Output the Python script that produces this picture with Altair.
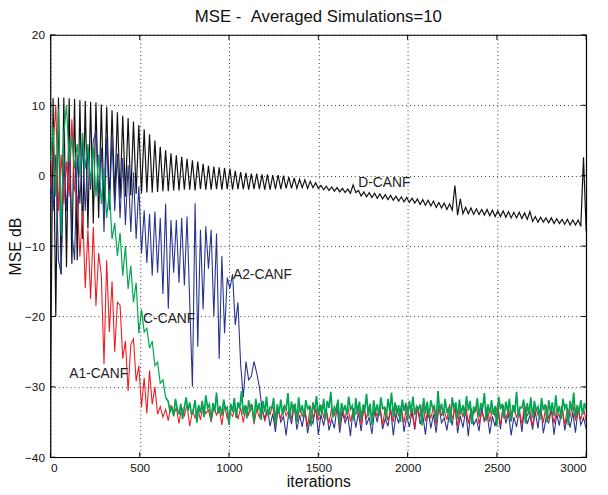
import altair as alt
import numpy as np
import pandas as pd

FONT = "Liberation Sans"

# ---------------- data ----------------
# D-CANF (black): ripple peaks (iterations 15, 45, ...) and troughs (0, 30, ...)
D_PEAKS = [
    11.0, 11.1, 11.1, 11.0, 10.9, 10.7, 10.6, 10.5, 10.4, 10.1,
    9.8, 9.3, 9.0, 8.5, 8.2, 7.7, 7.2, 6.6, 5.9, 5.0,
    4.1, 3.6, 3.2, 2.9, 2.7, 2.4, 2.2, 2.0, 1.7, 1.4,
    1.3, 1.2, 1.1, 1.0, 0.7, 0.5, 0.4, 0.3, 0.3, 0.2,
    0.2, 0.1, 0.1, 0.0, -0.2, -0.3, -0.5, -0.6, -0.8, -1.0,
    -1.4, -1.5, -1.6, -1.7, -1.8, -1.9, -1.3, -2.1, -2.3, -2.4,
    -2.5, -2.6, -2.7, -2.8, -2.9, -3.0, -3.1, -3.2, -3.3, -3.4,
    -3.5, -3.6, -3.8, -3.9, -4.0, -1.4, -3.3, -4.5, -4.6, -4.7,
    -4.8, -4.8, -4.9, -5.0, -5.0, -5.1, -5.2, -5.2, -5.3, -5.1,
    -5.8, -5.9, -6.0, -6.0, -6.1, -6.2, -6.2, -6.3, -6.3, 2.6,
]
D_TROUGHS = [
    -32.0, -20.0, -14.0, -13.0, -12.5, -12.0, -9.0, -7.5, -6.8, -6.0,
    -5.0, -4.2, -3.5, -3.2, -3.0, -2.8, -2.6, -2.5, -2.4, -2.4,
    -2.3, -2.2, -2.2, -2.1, -2.1, -2.0, -2.0, -2.1, -1.9, -2.0,
    -2.0, -1.9, -2.0, -1.9, -2.0, -1.9, -1.9, -2.0, -1.9, -1.9,
    -2.0, -2.0, -1.9, -1.9, -1.8, -1.8, -1.8, -1.7, -1.8, -1.7,
    -1.8, -2.0, -2.1, -2.2, -2.3, -2.4, -2.5, -2.4, -2.9, -3.0,
    -3.1, -3.2, -3.3, -3.4, -3.5, -3.6, -3.7, -3.8, -3.9, -4.1,
    -4.2, -4.3, -4.5, -4.6, -4.8, -4.9, -5.6, -5.4, -5.4, -5.5,
    -5.5, -5.6, -5.7, -5.8, -5.8, -5.9, -6.0, -6.0, -6.1, -6.2,
    -6.5, -6.6, -6.6, -6.7, -6.8, -6.8, -6.9, -7.0, -7.0, -7.2,
    -7.9,
]

# A2-CANF (blue), every 15 iterations
A2_TRANSIENT = [
    0.0, -5.0, 3.0, -12.0, -14.0, 2.0, -5.0, 4.0, -8.0, -12.0,
    3.0, -4.0, 5.0, -5.0, 4.0, -2.0, 5.0, 6.3, -3.0, 4.0,
    -8.0, 5.5, -4.9, 5.4, -5.0, 3.1, -6.0, 2.5, -7.0, 1.5,
    -8.0, 0.5, -9.0, -1.5, -11.0, -4.9, -12.4, -5.4, -14.2, -5.1,
    -13.8, -6.0, -16.8, -4.0, -18.9, -6.3, -13.8, -6.3, -15.2, -6.0,
    -15.6, -5.8, -18.0, -30.0, -3.9, -24.3, -7.7, -19.0, -7.2, -13.2,
    -7.7, -20.0, -8.2, -26.0, -11.4, -22.4, -14.5, -16.0, -14.0, -21.2,
    -18.0, -26.8, -31.5, -26.4, -29.0, -28.5, -26.4, -28.0, -30.0, -33.2,
    -34.5,
]
A2_STEADY = [
    -33.1, -35.6, -33.8, -36.4, -32.9, -35.0, -34.2, -36.9, -33.5, -35.3,
    -32.6, -36.1, -34.0, -35.7, -33.3, -36.6, -34.4, -35.2, -32.8, -36.8,
    -33.9, -35.5, -33.2, -36.2, -34.6, -35.9, -32.7, -36.5, -33.6, -35.1,
    -34.1, -37.0, -33.0, -35.8, -33.7, -36.3, -32.5, -35.4, -34.3, -36.7,
    -33.4, -35.0, -32.9, -36.0, -34.5, -35.6, -33.1, -36.9, -33.8, -35.2,
    -32.6, -36.4, -34.2, -35.7, -33.5, -36.1, -32.8, -35.3, -34.0, -36.8,
    -33.2, -35.9, -33.9, -36.5, -32.7, -35.1, -34.4, -36.2, -33.6, -35.5,
    -32.4, -36.6, -34.1, -35.8, -33.3, -37.0, -33.0, -35.4, -34.6, -36.3,
    -32.9, -35.0, -33.7, -36.7, -34.2, -35.6, -33.1, -36.0, -32.6, -35.2,
    -33.8, -36.9, -34.3, -35.7, -33.4, -36.4, -32.8, -35.3, -34.0, -36.1,
    -33.5, -35.9, -32.5, -36.6, -34.5, -35.1, -33.2, -36.8, -33.9, -35.5,
    -32.7, -36.2, -34.1, -35.8, -33.6, -36.5, -33.0, -35.4, -34.4, -36.0,
]

# A1-CANF (red), every 15 iterations
A1_TRANSIENT = [
    -2.0, 4.0, 10.0, -5.0, 3.0, -4.0, 2.0, -3.0, 8.0, -2.0,
    -3.0, -11.5, -5.0, -16.0, -7.7, -17.5, -7.3, -18.5, -11.0, -14.2,
    -26.8, -12.0, -22.2, -15.0, -25.0, -18.0, -18.4, -26.0, -23.5, -30.6,
    -24.0, -23.2, -29.2, -27.0, -32.9, -28.7, -33.8, -27.7, -32.5, -30.0,
    -33.9,
]
A1_STEADY = [
    -32.8, -34.3, -33.2, -34.8, -32.6, -33.9, -33.0, -35.2, -32.9, -34.1,
    -32.5, -35.6, -33.4, -34.4, -33.1, -34.7, -32.7, -33.8, -33.3, -35.0,
    -32.9, -34.0, -33.1, -35.4, -32.6, -34.5, -33.5, -34.2, -32.8, -34.6,
    -33.0, -35.1, -32.7, -34.0, -32.4, -35.3, -33.2, -34.3, -32.9, -34.9,
    -33.4, -33.9, -32.6, -35.5, -33.1, -34.6, -32.8, -34.1, -33.3, -34.4,
    -32.5, -35.0, -33.0, -34.2, -33.2, -35.7, -32.7, -34.5, -33.1, -34.8,
    -32.6, -34.3, -33.5, -35.2, -32.9, -34.0, -32.4, -35.6, -33.0, -34.6,
    -32.8, -34.9, -33.4, -33.9, -32.5, -35.3, -33.2, -34.4, -32.7, -34.7,
    -33.1, -34.2, -32.6, -35.5, -32.9, -34.8, -33.3, -35.0, -32.6, -34.1,
    -33.5, -35.1, -32.5, -34.5, -33.0, -35.8, -32.8, -34.3, -32.4, -34.9,
    -33.2, -34.4, -33.0, -35.4, -32.7, -34.0, -33.4, -34.7, -32.5, -34.6,
    -33.1, -35.6, -32.9, -34.3, -32.6, -35.2, -33.3, -33.9, -32.7, -35.3,
    -33.5, -34.8, -32.8, -35.0, -33.0, -34.2, -32.4, -35.5, -32.9, -34.5,
    -33.3, -34.9, -32.6, -34.4, -33.1, -35.4, -32.5, -34.1, -33.4, -35.7,
    -32.7, -34.0, -33.2, -35.1, -32.6, -34.6, -32.9, -35.2, -33.3, -34.3,
    -32.8, -35.5, -33.0, -34.2, -32.5, -34.8, -33.2, -34.7, -32.9, -35.0,
]

# C-CANF (green): transient every 15 iterations up to 645, then every 10
C_TRANSIENT = [
    2.0, 7.0, -3.0, 9.5, -8.5, 6.0, 10.0, 2.0, 5.5, 1.0,
    4.5, 0.0, 6.1, 1.0, 4.5, -1.0, 4.0, -3.0, 3.0, -4.0,
    1.0, -6.0, -2.0, -9.0, -6.7, -11.4, -8.1, -14.2, -10.0, -16.1,
    -12.8, -18.0, -15.2, -22.4, -19.0, -22.2, -21.7, -24.5, -23.5, -27.0,
    -26.5, -29.5, -29.0, -31.5,
]
C_STEADY = [
    -32.1, -33.6, -32.8, -34.2, -31.7, -33.1, -33.9, -32.4, -34.6, -32.9,
    -31.5, -33.4, -32.2, -34.0, -33.3, -31.9, -35.1, -32.6, -33.7, -32.0,
    -34.3, -31.2, -33.0, -32.5, -34.8, -32.3, -33.5, -30.8, -33.8, -32.7,
    -34.1, -31.8, -33.2, -32.9, -35.4, -32.4, -33.6, -31.6, -34.4, -32.2,
    -33.1, -30.6, -33.9, -32.6, -34.5, -31.9, -33.3, -32.8, -35.0, -31.7,
    -33.4, -32.3, -34.7, -32.0, -33.6, -31.4, -34.2, -32.9, -33.0, -31.6,
    -35.3, -32.5, -33.8, -31.8, -34.0, -32.7, -33.2, -30.9, -34.6, -32.1,
    -33.5, -32.4, -34.9, -31.5, -33.7, -32.6, -34.3, -31.9, -33.1, -32.8,
    -35.6, -32.2, -33.4, -31.3, -34.1, -32.5, -33.9, -31.7, -34.7, -32.0,
    -33.0, -30.7, -34.4, -32.9, -33.6, -31.8, -35.2, -32.3, -33.5, -32.6,
    -34.0, -31.4, -33.2, -32.7, -34.8, -31.6, -33.8, -32.1, -34.5, -32.8,
    -33.3, -31.0, -34.2, -32.4, -35.4, -31.9, -33.7, -32.5, -34.1, -31.5,
    -33.1, -32.9, -34.6, -31.7, -33.5, -30.8, -34.3, -32.2, -33.9, -32.6,
    -35.0, -31.8, -33.4, -32.3, -34.7, -32.0, -33.6, -31.4, -34.0, -32.8,
    -33.2, -32.5, -35.5, -31.6, -33.8, -32.1, -34.4, -31.9, -33.0, -32.7,
    -34.9, -30.6, -33.5, -32.4, -34.2, -31.7, -33.7, -32.9, -35.1, -31.5,
    -33.3, -32.2, -34.6, -31.8, -33.9, -32.6, -34.1, -31.3, -33.4, -32.0,
    -35.3, -32.8, -33.6, -31.6, -34.3, -32.3, -33.1, -30.9, -34.8, -32.5,
    -33.8, -31.9, -34.0, -32.7, -35.6, -31.4, -33.2, -32.4, -34.5, -32.1,
    -33.5, -31.7, -34.9, -32.6, -33.7, -30.7, -34.2, -32.9, -33.0, -31.8,
    -35.2, -32.3, -33.9, -31.5, -34.4, -32.0, -33.4, -32.8, -34.7, -31.6,
    -33.3, -32.5, -35.0, -31.9, -33.6, -32.2, -34.1, -31.2, -33.8, -32.7,
    -34.6, -31.7, -33.1, -32.4, -35.4, -32.0, -33.5, -30.8, -34.3, -32.6,
    -33.7, -31.9, -34.0, -32.3, -33.2,
]

LABELS = ["A1-CANF", "C-CANF", "A2-CANF", "D-CANF"]
LABEL_X = [105, 519, 1022, 1724]
LABEL_Y = [-28.2, -20.3, -14.1, -1.1]

X_TICKS = [0, 500, 1000, 1500, 2000, 2500, 3000]
Y_TICKS = [-40, -30, -20, -10, 0, 10, 20]

# ---------------- tables ----------------
d_df = pd.DataFrame({
    "x": np.concatenate([np.arange(0, 3001, 30), np.arange(15, 3000, 30)]),
    "y": D_TROUGHS + D_PEAKS,
}).sort_values("x")

a2_df = pd.DataFrame({"x": np.arange(0, 3001, 15), "y": A2_TRANSIENT + A2_STEADY})
a1_df = pd.DataFrame({"x": np.arange(0, 3001, 15), "y": A1_TRANSIENT + A1_STEADY})
c_df = pd.DataFrame({
    "x": np.concatenate([np.arange(0, 646, 15), np.arange(660, 3001, 10)]),
    "y": C_TRANSIENT + C_STEADY,
})
lab_df = pd.DataFrame({"label": LABELS, "x": LABEL_X, "y": LABEL_Y})

W, H = 543, 428
xs = alt.Scale(domain=[0, 3000], nice=False, zero=False)
ys = alt.Scale(domain=[-40, 20], nice=False, zero=False)

x_axis = alt.Axis(values=X_TICKS, format="d", title="iterations", grid=True,
                  gridDash=[1, 3], gridColor="#000", gridOpacity=0.8,
                  ticks=False, domain=False,
                  labelFont=FONT, labelFontSize=12, labelColor="#111", labelPadding=5,
                  titleFont=FONT, titleFontSize=16, titleFontWeight="normal",
                  titleColor="#111", titlePadding=1)
y_axis = alt.Axis(values=Y_TICKS, format="d", title="MSE dB", grid=True,
                  gridDash=[1, 3], gridColor="#000", gridOpacity=0.8,
                  ticks=False, domain=False,
                  labelFont=FONT, labelFontSize=12, labelColor="#111", labelPadding=6,
                  titleFont=FONT, titleFontSize=16, titleFontWeight="normal",
                  titleColor="#111", titlePadding=1)

X = alt.X("x:Q", scale=xs, axis=x_axis)
Y = alt.Y("y:Q", scale=ys, axis=y_axis)


def series(df, color, width=1.1):
    return alt.Chart(df).mark_line(color=color, strokeWidth=width, clip=True).encode(x=X, y=Y)


black = series(d_df, "#111111", 1.2)
blue = series(a2_df, "#27338f")
red = series(a1_df, "#ec1c24")
# the green curve is drawn in two pieces: its descent, and its dense noise floor
green_descent = series(c_df[c_df["x"] <= 645], "#00a651", 1.2)
green_floor = series(c_df[c_df["x"] >= 645], "#00a651", 1.7)

labels = alt.Chart(lab_df).mark_text(align="left", baseline="middle", font=FONT,
                                     fontSize=14, color="#222").encode(
    x=X, y=Y, text="label:N")

xt_df = pd.DataFrame({"x": X_TICKS})
yt_df = pd.DataFrame({"y": Y_TICKS})
tick_bottom = alt.Chart(xt_df).mark_rule(color="#000").encode(
    x=X, y=alt.value(H), y2=alt.value(H - 5))
tick_top = alt.Chart(xt_df).mark_rule(color="#000").encode(
    x=X, y=alt.value(0), y2=alt.value(5))
tick_left = alt.Chart(yt_df).mark_rule(color="#000").encode(
    y=Y, x=alt.value(0), x2=alt.value(5))
tick_right = alt.Chart(yt_df).mark_rule(color="#000").encode(
    y=Y, x=alt.value(W), x2=alt.value(W - 5))

chart = alt.layer(
    black, blue, red, green_descent, green_floor, labels,
    tick_bottom, tick_top, tick_left, tick_right
).properties(
    width=W, height=H,
    background="white",
    title=alt.TitleParams("MSE - \u00a0Averaged Simulations=10", font=FONT, fontSize=17,
                          fontWeight="normal", color="#111", offset=3),
    autosize=alt.AutoSizeParams(type="none"),
    padding={"left": 43, "top": 24, "right": 14, "bottom": 35},
).configure_view(stroke="#000", strokeWidth=1.2)

chart.save("out.html", embed_options={"renderer": "svg", "actions": False})
